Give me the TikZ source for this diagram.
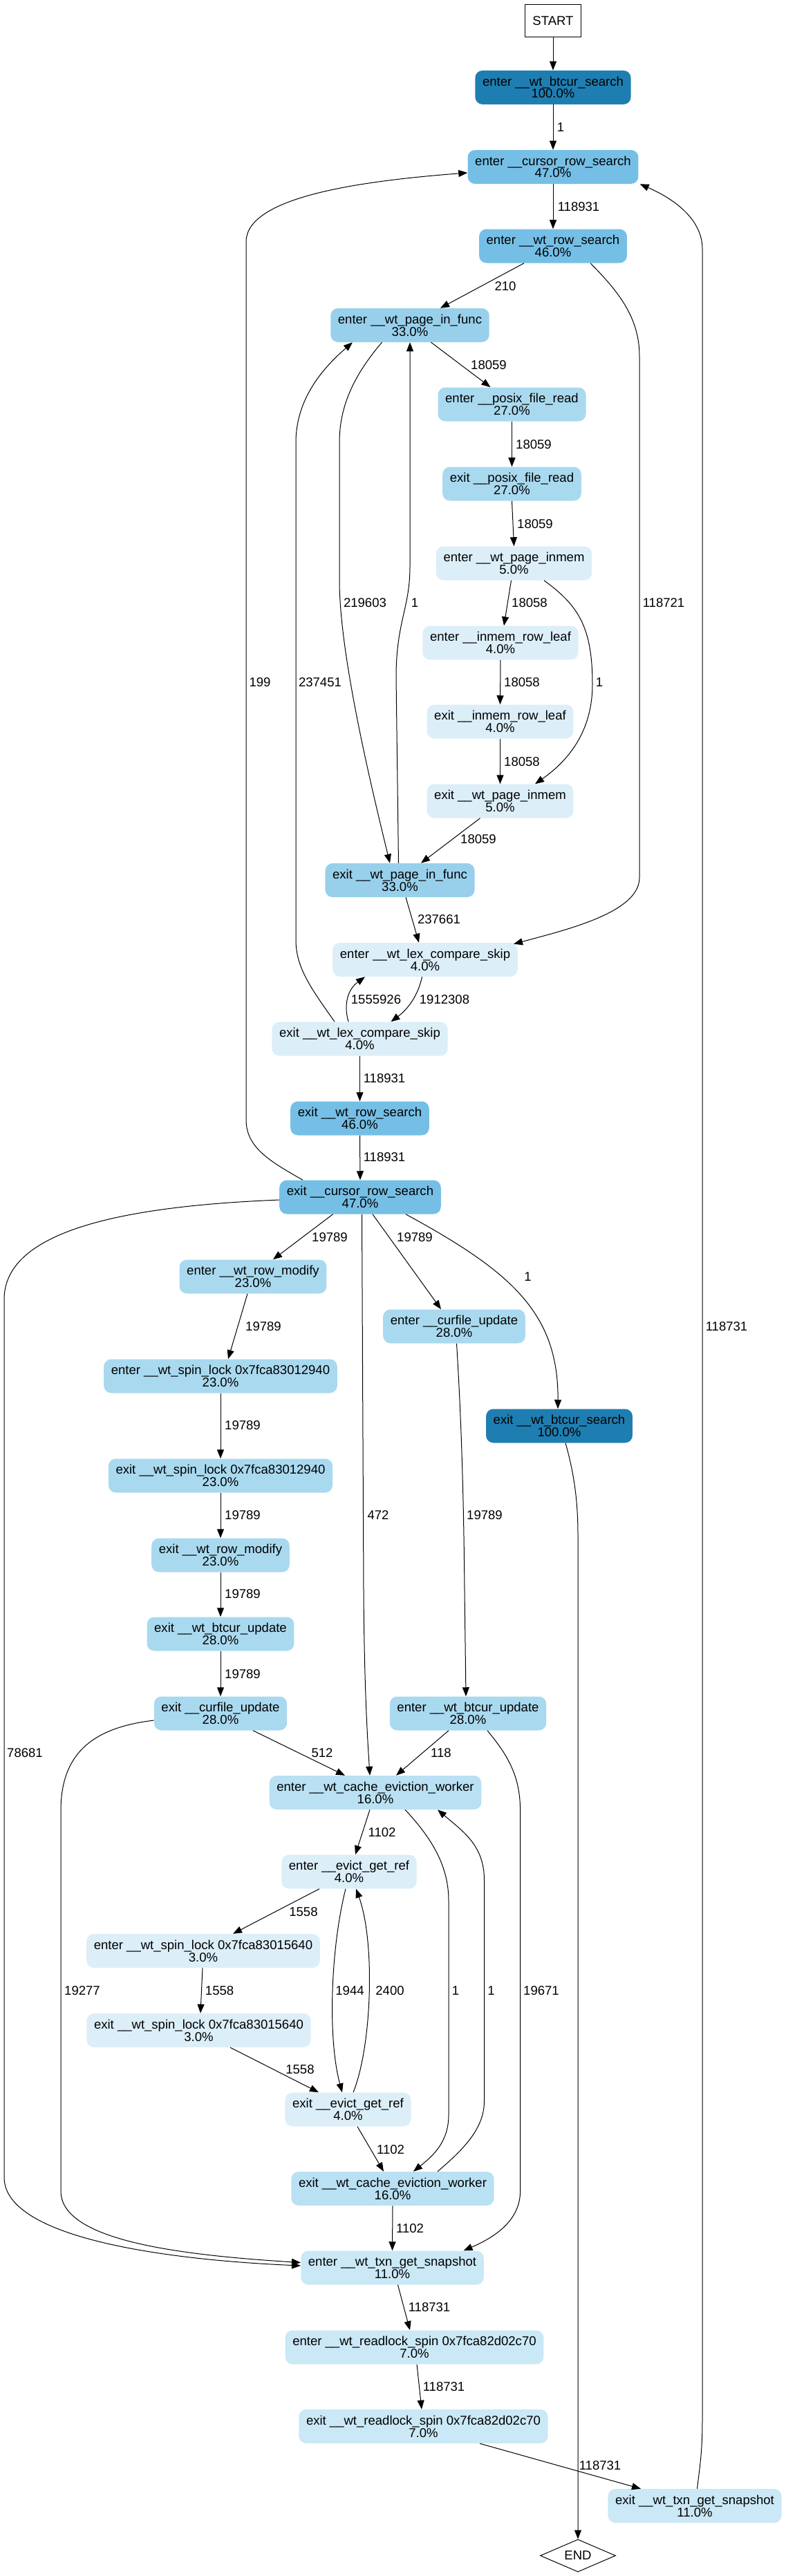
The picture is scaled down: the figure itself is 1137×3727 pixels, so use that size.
\documentclass[tikz,border=0pt]{standalone}
\usepackage{fontspec}
\setmainfont{Liberation Sans}
\usetikzlibrary{arrows.meta,calc,shapes.geometric}
\definecolor{cA}{HTML}{1F7EB1}
\definecolor{cB}{HTML}{75BFE6}
\definecolor{cC}{HTML}{98D0EC}
\definecolor{cD}{HTML}{A9D9EF}
\definecolor{cE}{HTML}{B9E0F3}
\definecolor{cF}{HTML}{CAE8F6}
\definecolor{cG}{HTML}{DCEEF8}
\begin{document}
\begin{tikzpicture}[x=0.75pt,y=-0.75pt,
  fn/.style={rectangle, rounded corners=8pt, inner xsep=8pt, inner ysep=2pt,
    minimum height=36.75pt, align=center, font=\fontsize{13.9}{13.3}\selectfont},
  lbl/.style={inner sep=0pt, font=\fontsize{13.9}{13.3}\selectfont},
  ed/.style={draw=black, line width=0.75pt, -{Triangle[length=9.75pt,width=7.5pt]}}
]
\useasboundingbox (0,0) rectangle (1137,3727);

% nodes
\node[draw, line width=0.75pt, minimum height=35.25pt, minimum width=60.75pt, inner sep=2pt, font=\fontsize{13.9}{13.3}\selectfont] (start) at (800,30) {START};
\node[fn, fill=cA] (btcur_in) at (800,126.5) {enter \_\_wt\_btcur\_search\\100.0\%};
\node[fn, fill=cB] (crs_in) at (800,241.5) {enter \_\_cursor\_row\_search\\47.0\%};
\node[fn, fill=cB] (rs_in) at (800,356) {enter \_\_wt\_row\_search\\46.0\%};
\node[fn, fill=cC] (pif_in) at (593,470.5) {enter \_\_wt\_page\_in\_func\\33.0\%};
\node[fn, fill=cD] (pfr_in) at (740.5,585) {enter \_\_posix\_file\_read\\27.0\%};
\node[fn, fill=cD] (pfr_out) at (740.5,700) {exit \_\_posix\_file\_read\\27.0\%};
\node[fn, fill=cG] (pim_in) at (743.5,815) {enter \_\_wt\_page\_inmem\\5.0\%};
\node[fn, fill=cG] (irl_in) at (724,930) {enter \_\_inmem\_row\_leaf\\4.0\%};
\node[fn, fill=cG] (irl_out) at (723.5,1044) {exit \_\_inmem\_row\_leaf\\4.0\%};
\node[fn, fill=cG] (pim_out) at (723.5,1159) {exit \_\_wt\_page\_inmem\\5.0\%};
\node[fn, fill=cC] (pif_out) at (578.5,1273.5) {exit \_\_wt\_page\_in\_func\\33.0\%};
\node[fn, fill=cG] (lcs_in) at (615,1388.5) {enter \_\_wt\_lex\_compare\_skip\\4.0\%};
\node[fn, fill=cG] (lcs_out) at (520.5,1503) {exit \_\_wt\_lex\_compare\_skip\\4.0\%};
\node[fn, fill=cB] (rs_out) at (520.5,1618) {exit \_\_wt\_row\_search\\46.0\%};
\node[fn, fill=cB] (crs_out) at (521,1732) {exit \_\_cursor\_row\_search\\47.0\%};
\node[fn, fill=cD] (rm_in) at (366,1847) {enter \_\_wt\_row\_modify\\23.0\%};
\node[fn, fill=cD] (cfu_in) at (657,1919) {enter \_\_curfile\_update\\28.0\%};
\node[fn, fill=cD] (sl1_in) at (319,1991) {enter \_\_wt\_spin\_lock 0x7fca83012940\\23.0\%};
\node[fn, fill=cA] (btc_out) at (809,2063) {exit \_\_wt\_btcur\_search\\100.0\%};
\node[fn, fill=cD] (sl1_out) at (319,2135) {exit \_\_wt\_spin\_lock 0x7fca83012940\\23.0\%};
\node[fn, fill=cD] (rm_out) at (319,2250) {exit \_\_wt\_row\_modify\\23.0\%};
\node[fn, fill=cD] (bu_out) at (319,2364) {exit \_\_wt\_btcur\_update\\28.0\%};
\node[fn, fill=cD] (cfu_out) at (319,2479) {exit \_\_curfile\_update\\28.0\%};
\node[fn, fill=cD] (bu_in) at (677,2479) {enter \_\_wt\_btcur\_update\\28.0\%};
\node[fn, fill=cE] (cew_in) at (543,2593.5) {enter \_\_wt\_cache\_eviction\_worker\\16.0\%};
\node[fn, fill=cG] (egr_in) at (505,2708) {enter \_\_evict\_get\_ref\\4.0\%};
\node[fn, fill=cG] (sl2_in) at (294,2822.5) {enter \_\_wt\_spin\_lock 0x7fca83015640\\3.0\%};
\node[fn, fill=cG] (sl2_out) at (287.5,2937.5) {exit \_\_wt\_spin\_lock 0x7fca83015640\\3.0\%};
\node[fn, fill=cG] (egr_out) at (503.5,3052) {exit \_\_evict\_get\_ref\\4.0\%};
\node[fn, fill=cE] (cew_out) at (568,3166.5) {exit \_\_wt\_cache\_eviction\_worker\\16.0\%};
\node[fn, fill=cF] (txn_in) at (567.5,3281) {enter \_\_wt\_txn\_get\_snapshot\\11.0\%};
\node[fn, fill=cF] (rl_in) at (599.5,3396) {enter \_\_wt\_readlock\_spin 0x7fca82d02c70\\7.0\%};
\node[fn, fill=cF] (rl_out) at (612.5,3510.5) {exit \_\_wt\_readlock\_spin 0x7fca82d02c70\\7.0\%};
\node[fn, fill=cF] (txn_out) at (1005,3625.5) {exit \_\_wt\_txn\_get\_snapshot\\11.0\%};
\node[draw, diamond, line width=0.75pt, inner sep=0pt, aspect=2.3, minimum width=81.75pt, minimum height=35.25pt, font=\fontsize{13.9}{13.3}\selectfont] (end) at (836,3697.5) {END};

% edges
\draw[ed] (start.south) -- (btcur_in.north);
\draw[ed] (btcur_in.south) -- (crs_in.north) node[lbl, at={(811,184)}] {1};
\draw[ed] (crs_in.south) -- (rs_in.north) node[lbl, at={(837,299)}] {118931};
\draw[ed] ($(rs_in.south)+(-42,0)$) -- ($(pif_in.north)+(44,0)$) node[lbl, at={(731,414)}] {210};
\draw[ed] ($(rs_in.south)+(54,0)$) .. controls (895,422) and (925,460) .. (925,515) -- (925,1270) .. controls (925,1320) and (820,1345) .. ($(lcs_in.north east)+(-6,2)$) node[lbl, at={(960,872)}] {118721};
\draw[ed] ($(pif_in.south)+(30.5,0)$) -- ($(pfr_in.north)+(-31,0)$) node[lbl, at={(707,528)}] {18059};
\draw[ed] ($(pif_in.south)+(-40.5,0)$) .. controls (510,545) and (491,590) .. (491,640) -- (491,840) .. controls (491,950) and (540,1150) .. ($(pif_out.north)+(-14.5,0)$) node[lbl, at={(528,872)}] {219603};
\draw[ed] ($(pif_out.north)+(-2,0)$) -- (573,980) .. controls (573,900) and (593,880) .. (593,820) -- (pif_in.south) node[lbl, at={(600,872)}] {1};
\draw[ed] ($(lcs_out.north)+(-36.5,0)$) .. controls (450,1430) and (428,1400) .. (428,1360) -- (428,640) .. controls (428,575) and (470,530) .. ($(pif_in.south)+(-83,0)$) node[lbl, at={(463,987)}] {237451};
\draw[ed] (pfr_in.south) -- (pfr_out.north) node[lbl, at={(772,643)}] {18059};
\draw[ed] (pfr_out.south) -- (pim_in.north) node[lbl, at={(774,758)}] {18059};
\draw[ed] ($(pim_in.south)+(-4,0)$) -- ($(irl_in.north)+(5,0)$) node[lbl, at={(766,872)}] {18058};
\draw[ed] ($(pim_in.south)+(43.5,0)$) .. controls (835,875) and (857,905) .. (857,990) .. controls (857,1050) and (830,1095) .. ($(pim_out.north)+(50.5,0)$) node[lbl, at={(867,987)}] {1};
\draw[ed] (irl_in.south) -- (irl_out.north) node[lbl, at={(755,987)}] {18058};
\draw[ed] (irl_out.south) -- (pim_out.north) node[lbl, at={(755,1102)}] {18058};
\draw[ed] ($(pim_out.south)+(-29,0)$) -- ($(pif_out.north)+(30.5,0)$) node[lbl, at={(692,1214)}] {18059};
\draw[ed] ($(pif_out.south)+(8.5,0)$) -- ($(lcs_in.north)+(-9,0)$) node[lbl, at={(635,1330.5)}] {237661};
\draw[ed] ($(lcs_in.south)+(-4.5,0)$) .. controls (605,1440) and (590,1460) .. ($(lcs_out.north)+(45,0)$) node[lbl, at={(643,1446)}] {1912308};
\draw[ed] ($(lcs_out.north)+(-16.5,0)$) .. controls (496,1450) and (505,1430) .. ($(lcs_in.south)+(-87,0)$) node[lbl, at={(544,1446)}] {1555926};
\draw[ed] (lcs_out.south) -- (rs_out.north) node[lbl, at={(556,1560)}] {118931};
\draw[ed] (rs_out.south) -- (crs_out.north) node[lbl, at={(556,1674.5)}] {118931};
\draw[ed] ($(crs_out.north)+(-83,0)$) .. controls (390,1680) and (356,1660) .. (356,1620) -- (356,350) .. controls (356,285) and (520,262) .. ($(crs_in.west)+(0,8.5)$) node[lbl, at={(376,987)}] {199};
\draw[ed] ($(crs_out.south)+(-39.5,0)$) -- ($(rm_in.north)+(29,0)$) node[lbl, at={(477,1790)}] {19789};
\draw[ed] ($(crs_out.south)+(18,0)$) -- ($(cfu_in.north)+(-19,0)$) node[lbl, at={(600,1790)}] {19789};
\draw[ed] ($(crs_out.south)+(66,0)$) .. controls (740,1840) and (808,1900) .. ($(btc_out.north)+(-2,0)$) node[lbl, at={(763.5,1846.7)}] {1};
\draw[ed] ($(crs_out.south)+(2.5,0)$) -- (526,2300) .. controls (527,2450) and (532,2520) .. ($(cew_in.north)+(-8,0)$) node[lbl, at={(547,2192)}] {472};
\draw[ed] ($(crs_out.west)+(0,4)$) .. controls (180,1745) and (6,1780) .. (6,1880) -- (6,3150) .. controls (6,3240) and (250,3270) .. ($(txn_in.west)+(0,-3)$) node[lbl, at={(36,2536)}] {78681};
\draw[ed] ($(rm_in.south)+(-8,0)$) -- ($(sl1_in.north)+(11,0)$) node[lbl, at={(381,1918.6)}] {19789};
\draw[ed] (sl1_in.south) -- (sl1_out.north) node[lbl, at={(351,2062.5)}] {19789};
\draw[ed] (sl1_out.south) -- (rm_out.north) node[lbl, at={(351,2192)}] {19789};
\draw[ed] (rm_out.south) -- (bu_out.north) node[lbl, at={(351,2306.5)}] {19789};
\draw[ed] (bu_out.south) -- (cfu_out.north) node[lbl, at={(351,2421.7)}] {19789};
\draw[ed] ($(cfu_in.south)+(3.5,0)$) .. controls (669,2080) and (671,2200) .. (672,2300) -- ($(bu_in.north)+(-3,0)$) node[lbl, at={(701,2192)}] {19789};
\draw[ed] ($(btc_out.south)+(9,0)$) .. controls (830,2130) and (836,2170) .. (836,2220) -- (end.north);
\draw[ed] ($(cfu_out.south)+(47,0)$) -- ($(cew_in.north)+(-44,0)$) node[lbl, at={(466,2536)}] {512};
\draw[ed] ($(cfu_out.west)+(0,10)$) .. controls (130,2500) and (88,2540) .. (88,2620) -- (88,3170) .. controls (88,3240) and (250,3262) .. ($(txn_in.west)+(0,-7.5)$) node[lbl, at={(119,2879.6)}] {19277};
\draw[ed] ($(bu_in.south)+(-28,0)$) -- ($(cew_in.north)+(30,0)$) node[lbl, at={(638,2536)}] {118};
\draw[ed] ($(bu_in.south)+(28,0)$) .. controls (735,2540) and (752.6,2570) .. (752.6,2620) -- (752.6,3170) .. controls (752.6,3210) and (720,3235) .. ($(txn_in.north)+(103,0)$) node[lbl, at={(783,2879.6)}] {19671};
\draw[ed] ($(cew_in.south)+(-8,0)$) -- ($(egr_in.north)+(9,0)$) node[lbl, at={(552.5,2650.7)}] {1102};
\draw[ed] ($(cew_in.south)+(43,0)$) .. controls (625,2660) and (649,2700) .. (649,2750) -- (649,3060) .. controls (649,3100) and (625,3120) .. ($(cew_out.north)+(30,0)$) node[lbl, at={(659,2879.6)}] {1};
\draw[ed] ($(cew_out.north)+(65,0)$) .. controls (670,3110) and (700.5,3080) .. (700.5,3040) -- (700.5,2720) .. controls (700.5,2670) and (670,2650) .. ($(cew_in.south)+(90,0)$) node[lbl, at={(710.6,2879.6)}] {1};
\draw[ed] ($(egr_in.south)+(-43,0)$) -- ($(sl2_in.north)+(43,0)$) node[lbl, at={(439,2765.7)}] {1558};
\draw[ed] ($(egr_in.south)+(-5,0)$) .. controls (478,2820) and (474,2950) .. ($(egr_out.north)+(-8.5,0)$) node[lbl, at={(506,2879.6)}] {1944};
\draw[ed] ($(egr_out.north)+(7.5,0)$) .. controls (538,2960) and (543,2810) .. ($(egr_in.south)+(10,0)$) node[lbl, at={(564,2879.6)}] {2400};
\draw[ed] ($(sl2_in.south)+(-1,0)$) -- ($(sl2_out.north)+(2.5,0)$) node[lbl, at={(317.6,2879.6)}] {1558};
\draw[ed] ($(sl2_out.south)+(45.5,0)$) -- ($(egr_out.north)+(-42.5,0)$) node[lbl, at={(434,2994)}] {1558};
\draw[ed] ($(egr_out.south)+(13.5,0)$) -- ($(cew_out.north)+(-13,0)$) node[lbl, at={(565,3110)}] {1102};
\draw[ed] (cew_out.south) -- (txn_in.north) node[lbl, at={(593,3224)}] {1102};
\draw[ed] ($(txn_in.south)+(8,0)$) -- ($(rl_in.north)+(-6.5,0)$) node[lbl, at={(621,3338)}] {118731};
\draw[ed] ($(rl_in.south)+(3.5,0)$) -- ($(rl_out.north)+(-2.5,0)$) node[lbl, at={(642,3453)}] {118731};
\draw[ed] ($(rl_out.south)+(81.5,0)$) -- ($(txn_out.north)+(-78,0)$) node[lbl, at={(868,3567)}] {118731};
\draw[ed] ($(txn_out.north)+(3.5,0)$) .. controls (1012,3570) and (1016,3550) .. (1016,3500) -- (1016,360) .. controls (1016,320) and (980,290) .. ($(crs_in.south east)+(2,0)$) node[lbl, at={(1051,1918.6)}] {118731};
\end{tikzpicture}
\end{document}
